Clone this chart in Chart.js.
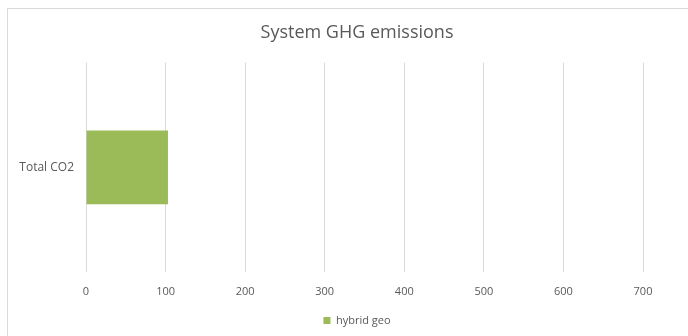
<!DOCTYPE html>
<html>
<head>
<meta charset="utf-8">
<script src="https://cdn.jsdelivr.net/npm/chart.js@4"></script>
<style>
  html, body { margin: 0; padding: 0; background: #fff; overflow: hidden; }
  #frame {
    position: absolute; left: 7px; top: 8px;
    width: 698px; height: 336px;
    border: 1px solid #d9d9d9;
  }
</style>
</head>
<body>
<div id="frame"><canvas id="grafico"></canvas></div>
<script>
// dati del grafico
const categorie = ['Total CO2'];
const serieNome = 'hybrid geo';
const serieValori = [103];
const tickX = [0, 100, 200, 300, 400, 500, 600, 700];

const grigioTesto = '#595959';
const font = "'Open Sans', 'Liberation Sans', sans-serif";

new Chart(document.getElementById('grafico').getContext('2d'), {
    type: 'bar',
    data: {
        labels: categorie,
        datasets: [{
            label: serieNome,
            data: serieValori,
            backgroundColor: '#9bbb59',
            borderWidth: 0,
            categoryPercentage: 1,
            barPercentage: 0.352
        }]
    },
    options: {
        indexAxis: 'y',
        responsive: true,
        maintainAspectRatio: false,
        animation: false,
        layout: { padding: { left: 0, right: 0, top: 0, bottom: 9 } },
        scales: {
            x: {
                min: tickX[0],
                max: tickX[tickX.length - 1],
                afterBuildTicks: scale => { scale.ticks = tickX.map(v => ({ value: v })); },
                // altezza fissa dell'asse e margine destro: titolo e legenda restano centrati
                afterFit: scale => { scale.height = 35; scale.paddingRight = 63; },
                grid: { color: '#d9d9d9', lineWidth: 1, drawTicks: false },
                border: { display: false },
                ticks: { color: grigioTesto, font: { family: font, size: 11 }, padding: 13 }
            },
            y: {
                grid: { display: false },
                border: { display: false },
                afterFit: scale => { scale.width = 78; },
                ticks: { color: grigioTesto, font: { family: font, size: 12 }, padding: 4 }
            }
        },
        plugins: {
            title: {
                display: true,
                text: 'System GHG emissions',
                color: grigioTesto,
                font: { family: font, size: 18, weight: 'normal' },
                padding: { top: 13, bottom: 19 }
            },
            legend: {
                position: 'bottom',
                labels: {
                    color: grigioTesto,
                    font: { family: font, size: 11 },
                    boxWidth: 7,
                    boxHeight: 7,
                    padding: 8
                }
            },
            tooltip: { enabled: false }
        }
    }
});
</script>
</body>
</html>
